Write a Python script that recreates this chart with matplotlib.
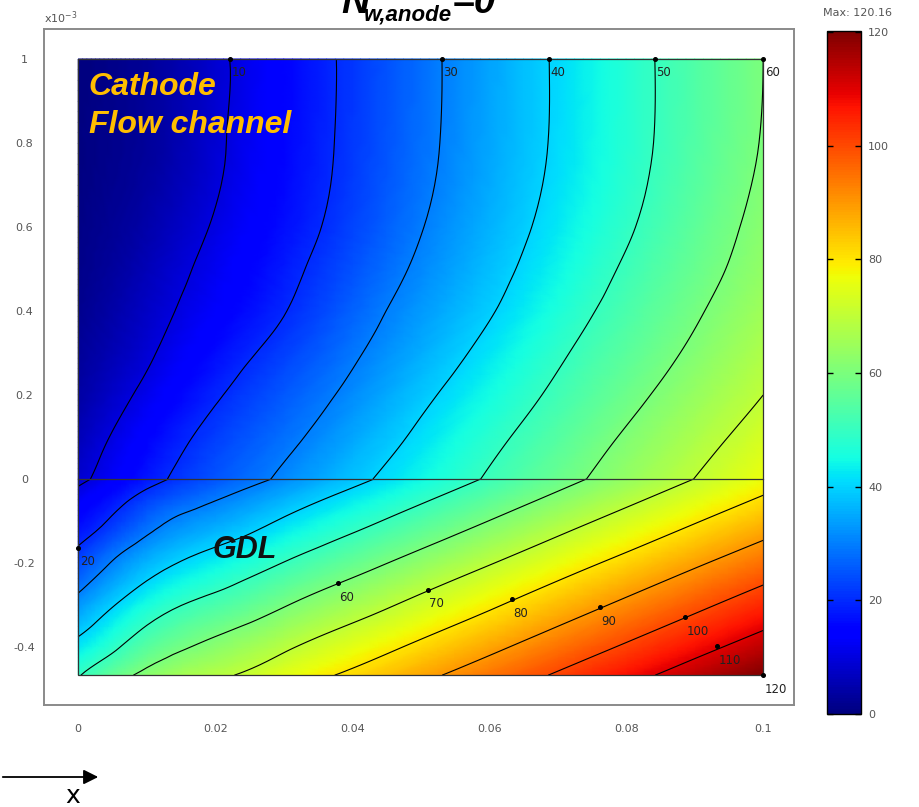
import numpy as np
import matplotlib
matplotlib.use('Agg')
import matplotlib.pyplot as plt
import matplotlib.tri as mtri
from matplotlib.patches import FancyArrowPatch, Rectangle
from matplotlib.colors import Normalize
from matplotlib.cm import ScalarMappable

# ---------------- data (y in units of 1e-3) ----------------
x_pos = [0.0, 0.005, 0.01, 0.02, 0.03, 0.04, 0.05, 0.06, 0.07, 0.08, 0.09, 0.1]
y_pos = [1.0, 0.8, 0.6, 0.5, 0.4, 0.3, 0.2, 0.1, 0.0, -0.1, -0.2, -0.3, -0.4, -0.467]

row_p100 = [0.0, 1.2, 2.8, 8.6, 15.1, 21.5, 28.0, 34.4, 40.8, 47.3, 53.7, 60.0]
row_p080 = [0.3, 1.5, 3.0, 8.9, 15.3, 21.7, 28.2, 34.6, 40.9, 47.4, 53.9, 60.4]
row_p060 = [0.8, 2.4, 4.6, 10.6, 16.6, 23.0, 29.7, 36.0, 42.5, 49.1, 55.7, 62.2]
row_p050 = [1.2, 3.2, 6.0, 12.0, 18.0, 24.6, 31.2, 37.5, 44.1, 50.9, 57.2, 63.4]
row_p040 = [1.8, 4.3, 7.4, 13.6, 19.7, 26.6, 33.2, 39.4, 46.3, 52.9, 59.1, 65.3]
row_p030 = [2.8, 5.6, 9.0, 16.2, 22.5, 29.0, 35.5, 42.1, 48.9, 55.2, 61.3, 67.5]
row_p020 = [4.0, 7.7, 11.6, 19.2, 25.5, 31.6, 38.4, 45.0, 51.5, 57.8, 64.0, 70.0]
row_p010 = [6.0, 10.4, 14.7, 22.3, 28.2, 34.6, 41.4, 48.0, 54.4, 60.8, 67.0, 73.2]
row_0000 = [8.5, 12.8, 17.5, 24.9, 31.2, 38.0, 44.4, 50.8, 57.3, 63.7, 70.1, 76.4]
row_m010 = [15.8, 21.0, 27.0, 34.2, 40.8, 47.3, 53.7, 60.1, 66.6, 73.0, 79.4, 85.7]
row_m020 = [23.5, 30.5, 36.3, 43.6, 50.2, 56.7, 63.1, 69.5, 76.0, 82.4, 88.8, 95.1]
row_m030 = [32.8, 39.5, 45.5, 52.9, 59.5, 66.0, 72.4, 78.8, 85.3, 91.7, 98.1, 104.4]
row_m040 = [42.5, 48.5, 54.8, 62.2, 68.8, 75.3, 81.7, 88.1, 94.6, 101.0, 107.4, 113.7]
row_m047 = [49.5, 56.5, 62.0, 68.5, 75.1, 81.6, 88.0, 94.4, 100.9, 107.3, 113.7, 120.16]

contour_levels = [10, 20, 30, 40, 50, 60, 70, 80, 90, 100, 110, 120]
cbar_ticks = [0, 20, 40, 60, 80, 100, 120]
v_min, v_max = 0.0, 120.16

# contour label anchors (value, x, y)
label_vals = ['10', '30', '40', '50', '60', '20', '60', '70', '80', '90', '100', '110', '120']
label_x = [0.0222, 0.0531, 0.0687, 0.0842, 0.1, 0.0, 0.0379, 0.0510, 0.0633, 0.0762, 0.0886, 0.0933, 0.1]
label_y = [1.0, 1.0, 1.0, 1.0, 1.0, -0.164, -0.248, -0.264, -0.286, -0.305, -0.329, -0.398, -0.467]

xticks = [0, 0.02, 0.04, 0.06, 0.08, 0.1]
xtick_labels = ['0', '0.02', '0.04', '0.06', '0.08', '0.1']
yticks = [1, 0.8, 0.6, 0.4, 0.2, 0, -0.2, -0.4]
ytick_labels = ['1', '0.8', '0.6', '0.4', '0.2', '0', '-0.2', '-0.4']

# ---------------- figure ----------------
W, H = 919, 807
fig = plt.figure(figsize=(W / 100, H / 100), dpi=100)

def fx(px):
    return px / W

def fy(py):
    return 1 - py / H

ax = fig.add_axes([fx(44), fy(705), fx(794) - fx(44), fy(29) - fy(705)])

X, Y = np.meshgrid(np.array(x_pos), np.array(y_pos))
Z = np.array([row_p100, row_p080, row_p060, row_p050, row_p040, row_p030, row_p020,
              row_p010, row_0000, row_m010, row_m020, row_m030, row_m040, row_m047])

cmap = plt.get_cmap('jet')
norm = Normalize(vmin=v_min, vmax=v_max)

# draw channel (y >= 0) and GDL (y <= 0) as two smooth sub-domains
aspect = 16.3  # x-to-y pixel scale ratio, for an isotropic triangulation
iface = y_pos.index(0.0)
for rows in (slice(0, iface + 1), slice(iface, None)):
    xs = X[rows].ravel() * aspect
    ys = Y[rows].ravel()
    zs = Z[rows].ravel()
    tri = mtri.Triangulation(xs, ys)
    interp = mtri.CubicTriInterpolator(tri, zs, kind='min_E')
    tri_r, z_r = mtri.UniformTriRefiner(tri).refine_field(zs, triinterpolator=interp, subdiv=3)
    tri_p = mtri.Triangulation(tri_r.x / aspect, tri_r.y, tri_r.triangles)
    ax.tripcolor(tri_p, z_r, shading='gouraud', cmap=cmap, norm=norm, rasterized=True)
    ax.tricontour(tri_p, z_r, levels=contour_levels, colors='k', linewidths=0.8)

# domain outline and channel/GDL interface
ax.add_patch(Rectangle((x_pos[0], y_pos[-1]), x_pos[-1] - x_pos[0], y_pos[0] - y_pos[-1],
                       fill=False, ec='#333333', lw=0.9, zorder=3))
ax.plot([x_pos[0], x_pos[-1]], [0, 0], color='#333333', lw=0.9, zorder=3)

# contour labels with dots
ax.plot(label_x, label_y, 'o', color='k', ms=2.6, zorder=4, clip_on=False)
for t, lx, ly in zip(label_vals, label_x, label_y):
    ax.annotate(t, (lx, ly), xytext=(1.5, -14), textcoords='offset pixels',
                ha='left', va='center', fontsize=8.5, color='#222222',
                annotation_clip=False, zorder=5)

ax.set_xlim(-0.005, 0.1045)
ax.set_ylim(-0.538, 1.0714)
ax.set_xticks(xticks)
ax.set_xticklabels(xtick_labels)
ax.set_yticks(yticks)
ax.set_yticklabels(ytick_labels, ha='center')
ax.tick_params(axis='both', length=0, labelsize=8, labelcolor='#555555')
ax.tick_params(axis='y', pad=14)
ax.tick_params(axis='x', pad=14)
for s in ax.spines.values():
    s.set_color('#8a8a8a')
    s.set_linewidth(1.4)

# region annotations
txt_kw = dict(fontfamily='Liberation Sans', fontweight='bold', fontstyle='italic')
ax.text(0.0015, 0.914, 'Cathode', color='#FFBE00', fontsize=23, va='baseline', ha='left', **txt_kw)
ax.text(0.0015, 0.824, 'Flow channel', color='#FFBE00', fontsize=23, va='baseline', ha='left', **txt_kw)
ax.text(0.0196, -0.188, 'GDL', color='#111111', fontsize=22, va='baseline', ha='left', **txt_kw)

# exponent text
fig.text(fx(44), fy(23), r'x10$^{-3}$', fontsize=8, color='#555555', ha='left', va='baseline')

# title (partly cut at the top, as in the original)
fig.text(fx(341), fy(13), 'N', fontsize=28, color='k', ha='left', va='baseline', **txt_kw)
fig.text(fx(364), fy(20), 'w,anode', fontsize=16, color='k', ha='left', va='baseline', **txt_kw)
fig.text(fx(452), fy(13), '=0', fontsize=28, color='k', ha='left', va='baseline', **txt_kw)

# colorbar
cax = fig.add_axes([fx(827), fy(714), fx(861) - fx(827), fy(31) - fy(714)])
cb = fig.colorbar(ScalarMappable(norm=norm, cmap=cmap), cax=cax, ticks=cbar_ticks)
cb.outline.set_edgecolor('k')
cb.outline.set_linewidth(1.0)
cax.tick_params(direction='in', left=True, right=True, length=4, width=1, color='k',
                labelsize=8, labelcolor='#555555', pad=5)
fig.text(fx(823), fy(13), 'Max: 120.16', fontsize=8, color='#555555', ha='left', va='center')

# x-direction arrow
arr = FancyArrowPatch((fx(0), fy(777)), (fx(101), fy(777)), transform=fig.transFigure,
                      arrowstyle='-|>', mutation_scale=22, lw=1.3, color='k')
fig.add_artist(arr)
fig.text(fx(73), fy(796), 'x', fontsize=18, color='k', ha='center', va='center')

fig.savefig('out.png', dpi=100)
